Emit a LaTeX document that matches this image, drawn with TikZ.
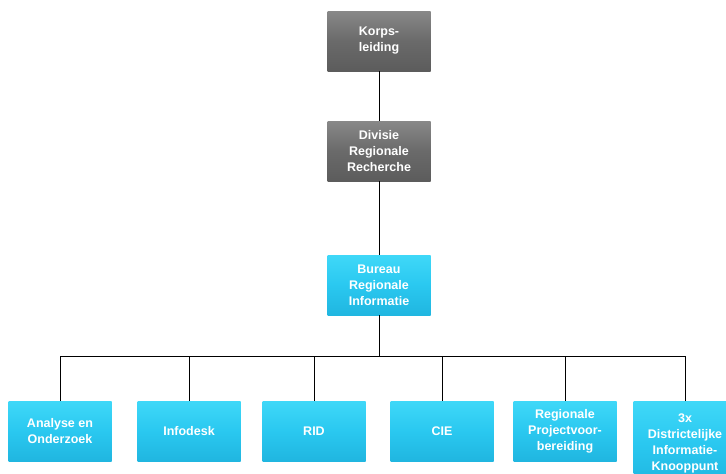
\documentclass[tikz,border=0pt]{standalone}
\usepackage{fontspec}
\setmainfont{Liberation Sans}

\definecolor{greytop}{HTML}{888888}
\definecolor{greymid}{HTML}{6A6A6A}
\definecolor{greybot}{HTML}{5C5C5C}
\definecolor{cyantop}{HTML}{3FD8F8}
\definecolor{cyanmid}{HTML}{2AC8F0}
\definecolor{cyanbot}{HTML}{20B6E0}

\tikzset{
	unit/.style = {text = white, font = \fontsize{12.5}{16}\selectfont\bfseries, align = center,
		minimum width = 103pt, minimum height = 60pt, inner sep = 1pt},
	staff/.style = {unit, top color = greytop, bottom color = greybot, middle color = greymid},
	dept/.style = {unit, top color = cyantop, bottom color = cyanbot, middle color = cyanmid},
}

\begin{document}
\begin{tikzpicture}[x = 1pt, y = -1pt]
	\useasboundingbox (0, 0) rectangle (726, 474);
	\clip (0, 0) rectangle (726, 474);
	\node[staff] (korps) at (379, 41) {Korps-\\leiding};
	\node[staff] (divisie) at (379, 151) {Divisie\\Regionale\\Recherche};
	\node[dept] (bureau) at (379, 285) {Bureau\\Regionale\\Informatie};
	\coordinate (bus) at (379, 356);
	\node[dept] (analyse) at (60, 431) {Analyse en\\Onderzoek};
	\node[dept] (infodesk) at (189, 431) {Infodesk};
	\node[dept] (rid) at (314, 431) {RID};
	\node[dept] (cie) at (442, 431) {CIE};
	\node[dept] (project) at (565, 431) {Regionale\\Projectvoor-\\bereiding};
	\node[dept, anchor = north, minimum height = 84pt] (knoop) at (685, 401) {3x\\Districtelijke\\Informatie-\\Knooppunt};
	\draw (korps) -- (divisie);
	\draw (divisie) -- (bureau);
	\draw (bureau) -- (bus);
	\foreach \n in {analyse, infodesk, rid, cie, project, knoop}
		\draw (\n.north) |- (bus);
\end{tikzpicture}
\end{document}
